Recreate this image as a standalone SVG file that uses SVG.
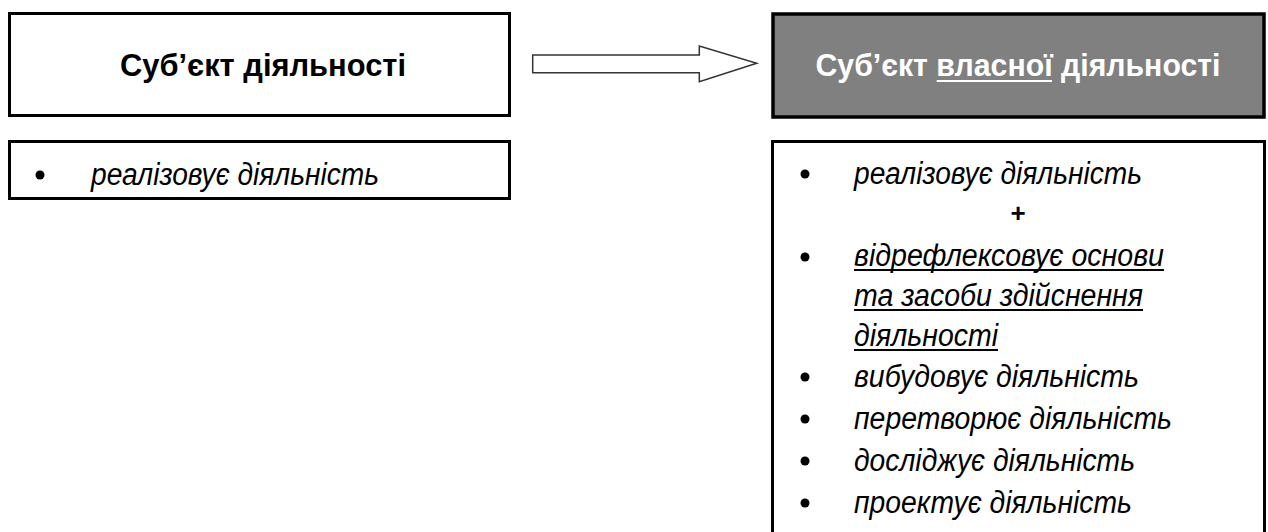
<svg xmlns="http://www.w3.org/2000/svg" width="1268" height="532" viewBox="0 0 1268 532">
<style>
.title{font-family:"Liberation Sans",Arial,sans-serif;font-weight:bold;font-size:32px}
.item{font-family:"Liberation Sans",Arial,sans-serif;font-style:italic;font-size:31px;fill:#000}
.box{fill:#fff;stroke:#000;stroke-width:3}
.ul{stroke:#000;stroke-width:2.2}
</style>
<rect width="1268" height="532" fill="#fff"/>
<g id="connectors">
<polygon points="532.7,55 699.3,55 699.3,46 756.7,63.3 699.3,81.7 699.3,72.7 532.7,72.7" fill="#fff" stroke="#333" stroke-width="1.5"/>
</g>
<g id="node-subject">
<rect class="box" x="9.5" y="13.5" width="500" height="102"/>
<text class="title" x="263" y="76" text-anchor="middle" textLength="286" lengthAdjust="spacingAndGlyphs" fill="#000">Суб’єкт діяльності</text>
</g>
<g id="node-subject-list">
<rect class="box" x="9.5" y="141.5" width="500" height="57"/>
<circle cx="40" cy="175" r="4.5"/>
<text class="item" x="91" y="185" textLength="288" lengthAdjust="spacingAndGlyphs">реалізовує діяльність</text>
</g>
<g id="node-own-subject">
<rect x="773" y="14" width="491" height="103" fill="#808080" stroke="#000" stroke-width="3.5"/>
<text class="title" x="1018" y="76" text-anchor="middle" textLength="405" lengthAdjust="spacingAndGlyphs" fill="#fff">Суб’єкт власної діяльності</text>
<line x1="936.7" y1="81" x2="1052" y2="81" stroke="#fff" stroke-width="2"/>
</g>
<g id="node-own-list">
<rect class="box" x="772.5" y="141.5" width="492" height="420"/>
<circle cx="805" cy="174" r="4.5"/>
<text class="item" x="854" y="184" textLength="288" lengthAdjust="spacingAndGlyphs">реалізовує діяльність</text>
<text x="1018" y="222" text-anchor="middle" font-family="Liberation Sans, Arial, sans-serif" font-weight="bold" font-size="26">+</text>
<circle cx="805" cy="257" r="4.5"/>
<text class="item" x="854" y="266" textLength="310" lengthAdjust="spacingAndGlyphs">відрефлексовує основи</text>
<line class="ul" x1="854" y1="270" x2="1164" y2="270"/>
<text class="item" x="854" y="306" textLength="289" lengthAdjust="spacingAndGlyphs">та засоби здійснення</text>
<line class="ul" x1="854" y1="310" x2="1143" y2="310"/>
<text class="item" x="854" y="346" textLength="144" lengthAdjust="spacingAndGlyphs">діяльності</text>
<line class="ul" x1="854" y1="350" x2="998" y2="350"/>
<circle cx="805" cy="377" r="4.5"/>
<text class="item" x="854" y="387" textLength="285" lengthAdjust="spacingAndGlyphs">вибудовує діяльність</text>
<circle cx="805" cy="419" r="4.5"/>
<text class="item" x="854" y="429" textLength="318" lengthAdjust="spacingAndGlyphs">перетворює діяльність</text>
<circle cx="805" cy="461" r="4.5"/>
<text class="item" x="854" y="471" textLength="281" lengthAdjust="spacingAndGlyphs">досліджує діяльність</text>
<circle cx="805" cy="503" r="4.5"/>
<text class="item" x="854" y="513" textLength="278" lengthAdjust="spacingAndGlyphs">проектує діяльність</text>
</g>
</svg>
